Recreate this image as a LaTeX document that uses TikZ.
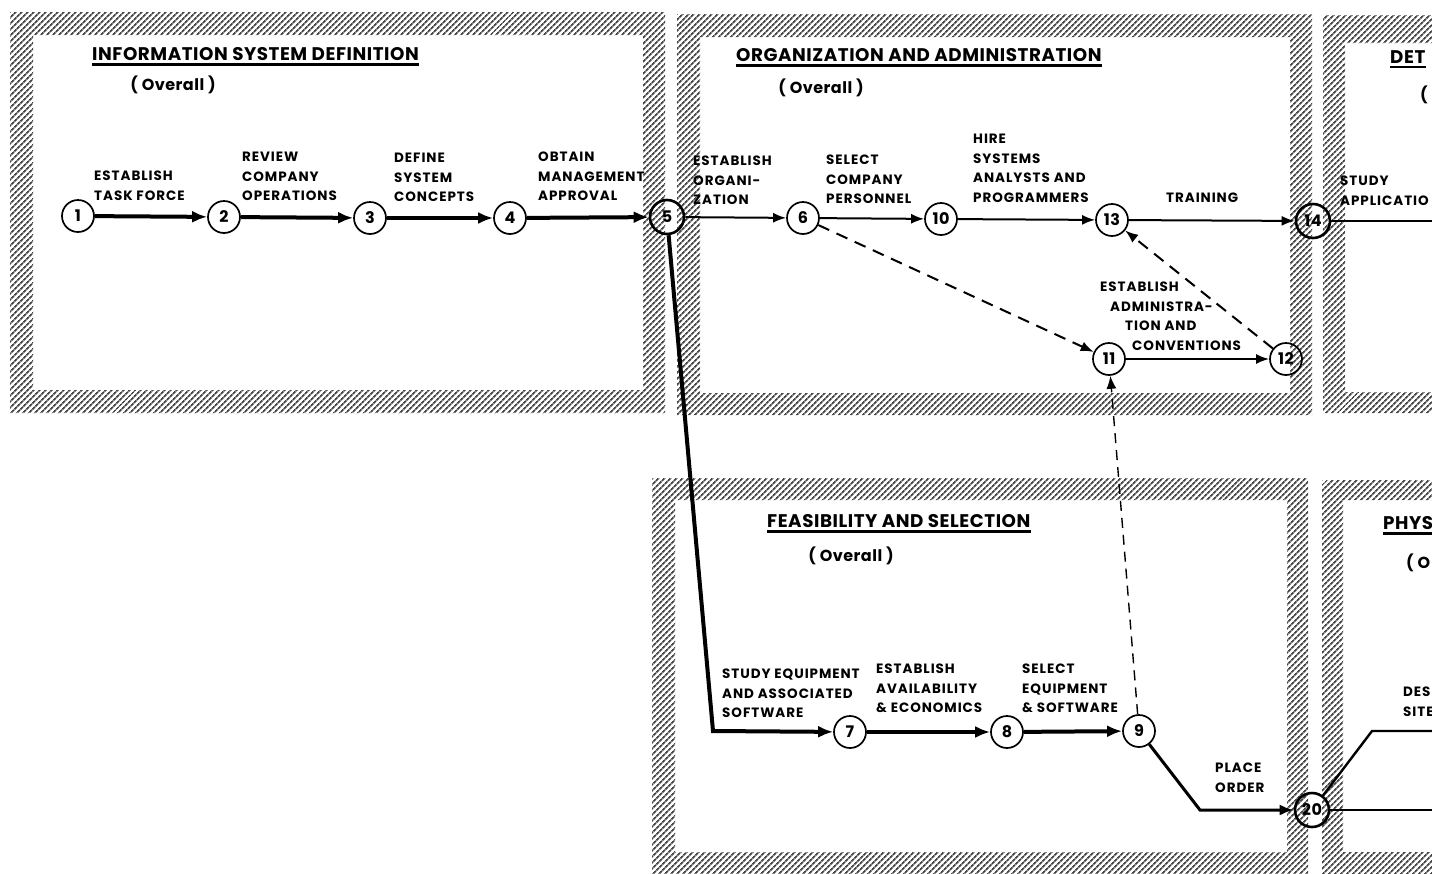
\documentclass[tikz,border=0pt]{standalone}
\usepackage{fontspec}
\setmainfont{Poppins}[LetterSpace=3]
\usetikzlibrary{arrows.meta,patterns.meta}

\tikzset{
  event/.style={circle, draw, line width=1.7pt, minimum size=32pt, inner sep=0pt,
    font=\bfseries\fontsize{16}{16}\selectfont},
  bigevent/.style={event, line width=2.6pt, minimum size=34pt},
  lbl/.style={anchor=north west, inner sep=0pt, align=left,
    font=\bfseries\fontsize{13.5}{19.5}\selectfont\addfontfeatures{LetterSpace=7}},
  ttl/.style={anchor=north west, inner sep=0pt, font=\bfseries\fontsize{18.3}{19}\selectfont},
  ovr/.style={inner sep=0pt, font=\bfseries\fontsize{16}{16}\selectfont},
  uline/.style={line width=2.4pt},
  hatch/.style={pattern={Lines[angle=45,distance=4pt,line width=1.8pt]},
    pattern color=black!72, even odd rule},
  heavy/.style={line width=4pt, -{Latex[length=15pt,width=12pt]}},
  act/.style={line width=2pt, -{Latex[length=13pt,width=10pt]}},
  dummy/.style={line width=2pt, dash pattern=on 12pt off 8pt, -{Latex[length=13pt,width=10pt]}},
}

\begin{document}
\begin{tikzpicture}[x=1pt,y=-1pt]
\useasboundingbox (0,0) rectangle (1432,873);
\clip (0,0) rectangle (1432,873);

% hatched frames
\fill[hatch] (10,12) rectangle (665,413) (33,35) rectangle (643,390);
\fill[hatch] (677,14) rectangle (1312,415) (700,37) rectangle (1290,393);
\fill[hatch] (652,478) rectangle (1308,880) (675,500) rectangle (1287,852);
\fill[hatch] (1323,15) rectangle (1450,413) (1345,43) rectangle (1450,392);
\fill[hatch] (1322,480) rectangle (1450,880) (1343,500) rectangle (1450,852);

% titles
\node[ttl] (t1) at (92,47) {INFORMATION SYSTEM DEFINITION};
\draw[uline] ([yshift=-4pt]t1.south west) -- ([yshift=-4pt]t1.south east);
\node[ovr] (o1) at (173,85) {( Overall )};
\node[ttl] (t2) at (736,48) {ORGANIZATION AND ADMINISTRATION};
\draw[uline] ([yshift=-4pt]t2.south west) -- ([yshift=-4pt]t2.south east);
\node[ovr] (o2) at (821,88) {( Overall )};
\node[ttl] (t3) at (767,514) {FEASIBILITY AND SELECTION};
\draw[uline] ([yshift=-4pt]t3.south west) -- ([yshift=-4pt]t3.south east);
\node[ovr] (o3) at (851,556) {( Overall )};
\node[ttl] (t4) at (1390,50) {DET};
\draw[uline] ([yshift=-4pt]t4.south west) -- ([yshift=-4pt]t4.south east);
\node[ovr, anchor=west] (o4) at (1420,95) {(};
\node[ttl] (t5) at (1383,516) {PHYS};
\draw[uline] ([yshift=-4pt]t5.south west) -- ([yshift=-4pt]t5.south east);
\node[ovr, anchor=west] (o5) at (1406,563) {( O};

% events
\node[event] (n1) at (78,216) {1};
\node[event] (n2) at (224,217) {2};
\node[event] (n3) at (370,218) {3};
\node[event] (n4) at (510,218) {4};
\node[bigevent] (n5) at (667,217) {5};
\node[event] (n6) at (803,218) {6};
\node[event] (n10) at (941,219) {10};
\node[event] (n13) at (1112,220) {13};
\node[bigevent] (n14) at (1313,221) {14};
\node[event] (n11) at (1109,359) {11};
\node[event] (n12) at (1286,359) {12};
\node[event] (n7) at (850,732) {7};
\node[event] (n8) at (1007,732) {8};
\node[event] (n9) at (1139,731) {9};
\node[bigevent] (n20) at (1312,810) {20};

% activities
\draw[heavy] (n1) -- (n2);
\draw[heavy] (n2) -- (n3);
\draw[heavy] (n3) -- (n4);
\draw[heavy] (n4) -- (n5);
\draw[act] (n5) -- (n6);
\draw[act] (n6) -- (n10);
\draw[act] (n10) -- (n13);
\draw[act] (n13) -- (n14);
\coordinate (e14) at (1432,221);
\draw[line width=2pt] (n14) -- (e14);
\draw[dummy] (n6) -- (n11);
\draw[act] (n11) -- (n12);
\draw[dummy] (n12) -- (n13);
\draw[dummy, line width=1.4pt, dash pattern=on 10pt off 7pt] (n9) -- (n11);
\coordinate (b57) at (713,731);
\draw[heavy] (n5) -- (b57) -- (n7);
\draw[heavy] (n7) -- (n8);
\draw[heavy] (n8) -- (n9);
\coordinate (b920) at (1200,810);
\draw[line width=3pt, -{Latex[length=14pt,width=11pt]}] (n9) -- (b920) -- (n20);
\coordinate (b20) at (1372,731);
\coordinate (e20a) at (1432,731);
\coordinate (e20b) at (1432,810);
\draw[line width=2.4pt] (n20) -- (b20) -- (e20a);
\draw[line width=2.4pt] (n20) -- (e20b);

% activity labels
\node[lbl] (l12) at (94,171) {ESTABLISH\\TASK FORCE};
\node[lbl] (l23) at (242,152) {REVIEW\\COMPANY\\OPERATIONS};
\node[lbl] (l34) at (394,153) {DEFINE\\SYSTEM\\CONCEPTS};
\node[lbl] (l45) at (538,152) {OBTAIN\\MANAGEMENT\\APPROVAL};
\node[lbl] (l56) at (693,156) {ESTABLISH\\ORGANI-\\ZATION};
\node[lbl] (l610) at (826,155) {SELECT\\COMPANY\\PERSONNEL};
\node[lbl] (l1013) at (973,134) {HIRE\\SYSTEMS\\ANALYSTS AND\\PROGRAMMERS};
\node[lbl] (l1314) at (1166,193) {TRAINING};
\node[lbl] (l14) at (1340,176) {STUDY\\APPLICATIO};
\node[lbl] (l1112) at (1100,282) {ESTABLISH\\\hspace*{10pt}ADMINISTRA-\\\hspace*{25pt}TION AND\\\hspace*{32pt}CONVENTIONS};
\node[lbl] (l78) at (722,669) {STUDY EQUIPMENT\\AND ASSOCIATED\\SOFTWARE};
\node[lbl] (l89) at (876,664) {ESTABLISH\\AVAILABILITY\\\& ECONOMICS};
\node[lbl] (l9) at (1022,664) {SELECT\\EQUIPMENT\\\& SOFTWARE};
\node[lbl] (l920) at (1215,763) {PLACE\\ORDER};
\node[lbl] (l20) at (1403,687) {DES\\SITE};
\end{tikzpicture}
\end{document}
